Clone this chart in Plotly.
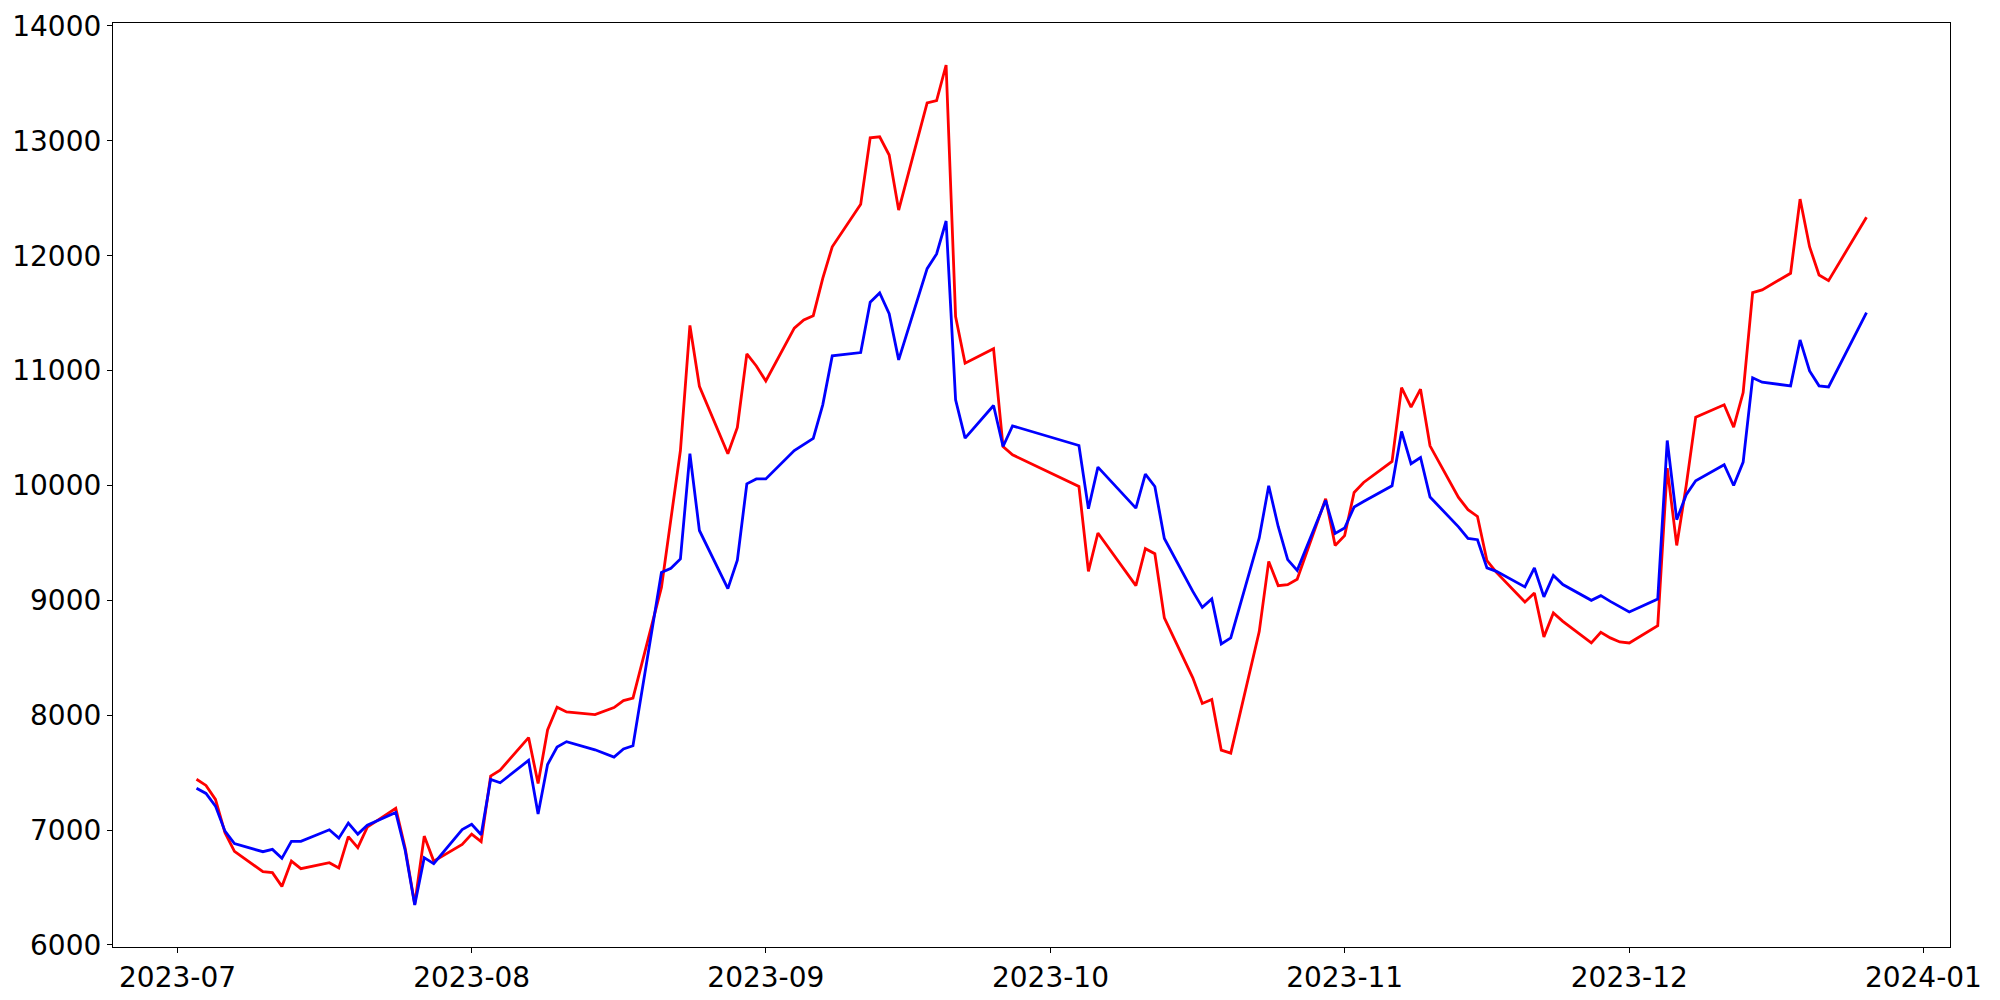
import plotly.graph_objects as go
import numpy as np

dates = [
    "2023-07-03", "2023-07-04", "2023-07-05", "2023-07-06", "2023-07-07",
    "2023-07-10", "2023-07-11", "2023-07-12", "2023-07-13", "2023-07-14",
    "2023-07-17", "2023-07-18", "2023-07-19", "2023-07-20", "2023-07-21",
    "2023-07-24", "2023-07-25", "2023-07-26", "2023-07-27", "2023-07-28",
    "2023-07-31",
    "2023-08-01", "2023-08-02", "2023-08-03", "2023-08-04",
    "2023-08-07", "2023-08-08", "2023-08-09", "2023-08-10", "2023-08-11",
    "2023-08-14", "2023-08-16", "2023-08-17", "2023-08-18",
    "2023-08-21", "2023-08-22", "2023-08-23", "2023-08-24", "2023-08-25",
    "2023-08-28", "2023-08-29", "2023-08-30", "2023-08-31",
    "2023-09-01",
    "2023-09-04", "2023-09-05", "2023-09-06", "2023-09-07", "2023-09-08",
    "2023-09-11", "2023-09-12", "2023-09-13", "2023-09-14", "2023-09-15",
    "2023-09-18", "2023-09-19", "2023-09-20", "2023-09-21", "2023-09-22",
    "2023-09-25", "2023-09-26", "2023-09-27",
    "2023-10-04", "2023-10-05", "2023-10-06",
    "2023-10-10", "2023-10-11", "2023-10-12", "2023-10-13",
    "2023-10-16", "2023-10-17", "2023-10-18", "2023-10-19", "2023-10-20",
    "2023-10-23", "2023-10-24", "2023-10-25", "2023-10-26", "2023-10-27",
    "2023-10-30", "2023-10-31",
    "2023-11-01", "2023-11-02", "2023-11-03",
    "2023-11-06", "2023-11-07", "2023-11-08", "2023-11-09", "2023-11-10",
    "2023-11-13", "2023-11-14", "2023-11-15", "2023-11-16", "2023-11-17",
    "2023-11-20", "2023-11-21", "2023-11-22", "2023-11-23", "2023-11-24",
    "2023-11-27", "2023-11-28", "2023-11-29", "2023-11-30",
    "2023-12-01",
    "2023-12-04", "2023-12-05", "2023-12-06", "2023-12-07", "2023-12-08",
    "2023-12-11", "2023-12-12", "2023-12-13", "2023-12-14", "2023-12-15",
    "2023-12-18", "2023-12-19", "2023-12-20", "2023-12-21", "2023-12-22",
    "2023-12-26",
]

red_values = [
    7443, 7389, 7267, 6977, 6815, 6638, 6630, 6510, 6730, 6664,
    6716, 6670, 6943, 6847, 7026, 7189, 6840, 6354, 6948, 6730, 6876,
    6965, 6900, 7470, 7522, 7805, 7405, 7872, 8070, 8028, 8006, 8067,
    8127, 8148, 9113, 9703, 10304, 11393, 10863, 10276, 10505, 11145, 11040,
    10910, 11369, 11441, 11478, 11803, 12078, 12447, 13026, 13035, 12876,
    12397, 13330, 13350, 13660, 11470, 11064, 11191, 10339, 10267,
    9991, 9252, 9586, 9128, 9450, 9406, 8847, 8325, 8102, 8137, 7696,
    7670, 8728, 9339, 9128, 9137, 9183, 9884, 9478,
    9563, 9939, 10026, 10209, 10852, 10682, 10838, 10345, 9896, 9789,
    9730, 9345, 9243, 8986, 9064, 8682, 8890, 8817, 8629, 8722, 8673, 8638,
    8629, 8780, 10151, 9478, 10000, 10595, 10702, 10508, 10809, 11678,
    11702, 11847, 12493, 12078, 11832, 11783, 12334,
]

blue_values = [
    7365, 7319, 7209, 6991, 6882, 6812, 6832, 6754, 6902, 6902,
    7003, 6930, 7061, 6965, 7043, 7154, 6820, 6348, 6760, 6708, 7005,
    7050, 6960, 7441, 7412, 7607, 7140, 7571, 7723, 7770, 7699, 7636,
    7706, 7734, 9243, 9279, 9360, 10276, 9608, 9102, 9350, 10014, 10057,
    10057, 10304, 10360, 10409, 10702, 11128, 11157, 11595, 11676, 11496,
    11093, 11887, 12015, 12302, 10745, 10412, 10696, 10339, 10519,
    10348, 9797, 10160, 9803, 10099, 9991, 9539, 9078, 8939, 9012, 8621,
    8673, 9543, 9997, 9643, 9354, 9261, 9870, 9583,
    9630, 9812, 9861, 9997, 10470, 10189, 10243, 9899, 9640, 9539,
    9528, 9282, 9252, 9117, 9282, 9030, 9217, 9137, 9000, 9041, 8991, 8948,
    8899, 9012, 10391, 9702, 9919, 10041, 10180, 10000, 10203, 10937,
    10899, 10867, 11267, 10997, 10867, 10858, 11504,
]

y_ticks = [6000, 7000, 8000, 9000, 10000, 11000, 12000, 13000, 14000]

# autoscale-like ranges with 5% margins (matplotlib default)
all_vals = np.array(red_values + blue_values, dtype=float)
ymin, ymax = all_vals.min(), all_vals.max()
ypad = 0.05 * (ymax - ymin)
d = np.array(dates, dtype="datetime64[s]")
span = (d[-1] - d[0]).astype(float)
xpad = np.timedelta64(int(0.05 * span), "s")
x_lo = str(d[0] - xpad)
x_hi = str(d[-1] + xpad)

tick_font = dict(size=28, family="DejaVu Sans", color="black")

fig = go.Figure()
fig.add_trace(go.Scatter(x=dates, y=red_values, mode="lines",
                         line=dict(color="#ff0000", width=2.8), name="red"))
fig.add_trace(go.Scatter(x=dates, y=blue_values, mode="lines",
                         line=dict(color="#0000ff", width=2.8), name="blue"))

# the page body adds an 8px offset, so the figure is 8px smaller
fig.update_layout(
    width=1992, height=992,
    margin=dict(l=105, r=50, t=15, b=53, pad=0, autoexpand=False),
    paper_bgcolor="white", plot_bgcolor="white",
    showlegend=False,
    font=dict(family="DejaVu Sans", color="black", size=28),
)
fig.update_xaxes(
    type="date", range=[x_lo, x_hi], automargin=False,
    tick0="2023-07-01", dtick="M1", tickformat="%Y-%m",
    showgrid=False, zeroline=False,
    showline=True, mirror=True, linecolor="black", linewidth=1.2,
    ticks="outside", ticklen=5, tickwidth=1.1, tickcolor="black",
    tickfont=tick_font,
)
fig.update_yaxes(
    range=[ymin - ypad, ymax + ypad], automargin=False,
    tickmode="array", tickvals=y_ticks, ticktext=[str(v) for v in y_ticks],
    showgrid=False, zeroline=False,
    showline=True, mirror=True, linecolor="black", linewidth=1.2,
    ticks="outside", ticklen=5, tickwidth=1.1, tickcolor="black",
    tickfont=tick_font,
)

fig.write_html("out.html")
